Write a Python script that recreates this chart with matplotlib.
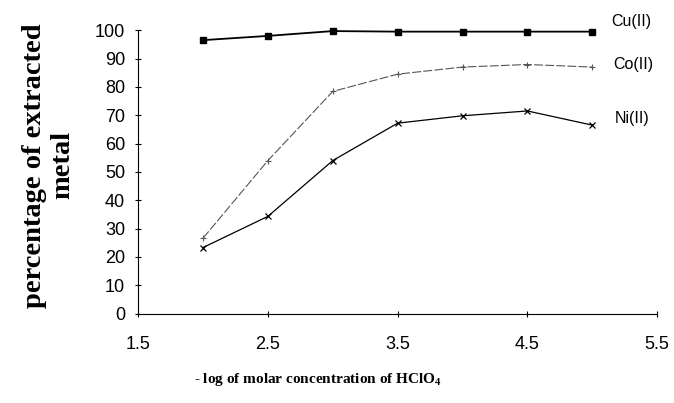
import matplotlib.pyplot as plt

log_conc = [2.0, 2.5, 3.0, 3.5, 4.0, 4.5, 5.0]
cu = [96.5, 98, 99.7, 99.5, 99.5, 99.5, 99.5]
co = [26.6, 54, 78.4, 84.5, 87, 87.9, 87]
ni = [23.3, 34.3, 54, 67.2, 69.8, 71.5, 66.5]

plt.rcParams['mathtext.fontset'] = 'custom'
plt.rcParams['mathtext.rm'] = 'Liberation Serif:bold'
plt.rcParams['mathtext.it'] = 'Liberation Serif:bold'

fig = plt.figure(figsize=(6.74, 4.03), dpi=100)
ax = fig.add_axes([0.205, 0.222, 0.77, 0.703])

ax.plot(log_conc, cu, color='black', lw=1.3, marker='s', ms=4.5, clip_on=False)
ax.plot(log_conc, co, color='#555555', lw=0.8, marker='+', ms=5, mew=0.8,
        linestyle=(0, (8, 2)), clip_on=False)
ax.plot(log_conc, ni, color='black', lw=0.9, marker='x', ms=4, mew=0.9, clip_on=False)

ax.text(5.15, 103.2, 'Cu(II)', fontsize=11.5, family='Liberation Sans', va='center', clip_on=False)
ax.text(5.16, 88.0, 'Co(II)', fontsize=11.5, family='Liberation Sans', va='center', clip_on=False)
ax.text(5.17, 69.0, 'Ni(II)', fontsize=11.5, family='Liberation Sans', va='center', clip_on=False)

ax.set_xlim(1.5, 5.5)
ax.set_ylim(0, 100)
ax.set_xticks([1.5, 2.5, 3.5, 4.5, 5.5])
ax.set_xticklabels(['1.5', '2.5', '3.5', '4.5', '5.5'])
ax.set_yticks(range(0, 101, 10))
ax.spines['top'].set_visible(False)
ax.spines['right'].set_visible(False)
ax.tick_params(direction='inout', length=5, width=0.8, labelsize=13)
ax.tick_params(axis='x', pad=14)
ax.tick_params(axis='y', pad=7)
for lab in ax.get_xticklabels() + ax.get_yticklabels():
    lab.set_family('Liberation Sans')

fig.text(0.072, 0.59, 'percentage of extracted\nmetal', rotation=90,
         ha='center', va='center', multialignment='center',
         family='Liberation Serif', fontweight='bold', fontsize=20.5, linespacing=1.2)
fig.text(0.472, 0.05, '- log of molar concentration of HClO$_4$', ha='center',
         family='Liberation Serif', fontweight='bold', fontsize=11)

plt.savefig('out.png')
